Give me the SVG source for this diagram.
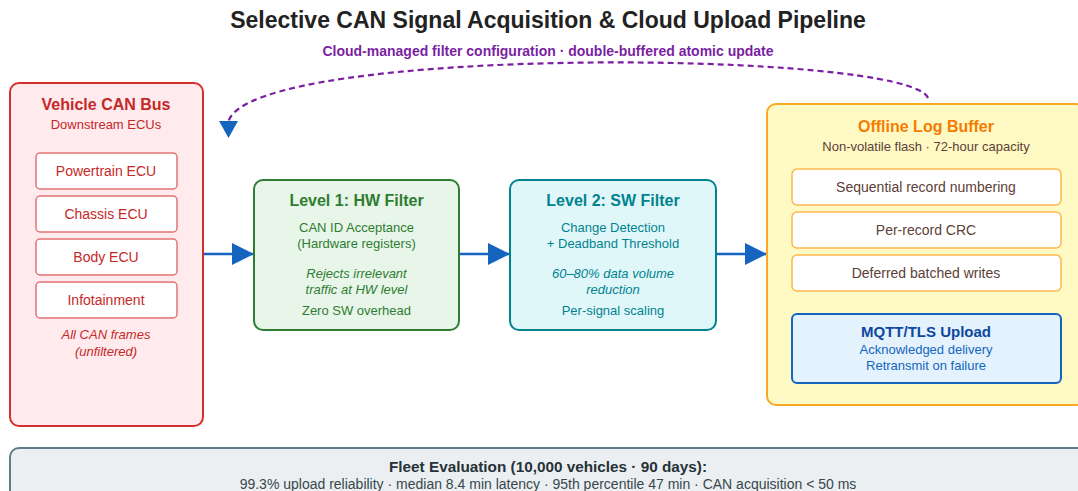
<svg xmlns="http://www.w3.org/2000/svg" width="1078" height="491" viewBox="0 0 1078 491">
<defs>
<marker id="blueHead" markerWidth="22" markerHeight="22" viewBox="0 0 22 22" refX="22" refY="11" orient="auto" markerUnits="userSpaceOnUse">
<path d="M0,0 L22,11 L0,22 Z" fill="#1565c0"/>
</marker>
<marker id="cfgHead" markerWidth="17" markerHeight="19" viewBox="0 0 17 19" refX="0" refY="9.5" orient="90" markerUnits="userSpaceOnUse">
<path d="M0,0 L17,9.5 L0,19 Z" fill="#1565c0"/>
</marker>
</defs>
<style>
text{font-family:"Liberation Sans",Arial,Helvetica,sans-serif;text-anchor:middle}
.title{font-size:23px;font-weight:bold;fill:#222}
.sub{font-size:14px;font-weight:bold;fill:#7b1fa2}
.h{font-size:16px;font-weight:bold}
.s{font-size:13px}
.i{font-size:13px;font-style:italic}
.item{font-size:14px}
.flow{stroke:#1565c0;stroke-width:2.5;fill:none}
.cfg{stroke:#7b1fa2;stroke-width:2.2;fill:none;stroke-dasharray:6 4}
.ecu{fill:#fff;stroke:#e57373;stroke-width:1.5}
.log{fill:#fff;stroke:#ffb74d;stroke-width:1.5}
</style>
<rect width="1078" height="491" fill="#fff"/>
<text class="title" x="548" y="28">Selective CAN Signal Acquisition &amp; Cloud Upload Pipeline</text>
<text class="sub" x="548" y="56">Cloud-managed filter configuration · double-buffered atomic update</text>

<g id="connectors">
<path class="cfg" d="M928,98 C910,50 255,44 228.5,121" marker-end="url(#cfgHead)"/>
<path class="flow" d="M203,254 L254,254" marker-end="url(#blueHead)"/>
<path class="flow" d="M459,254 L510,254" marker-end="url(#blueHead)"/>
<path class="flow" d="M716,254 L767,254" marker-end="url(#blueHead)"/>
</g>

<g id="vehicle-can-bus">
<rect x="10" y="83" width="193" height="343" rx="9" fill="#ffebee" stroke="#d32f2f" stroke-width="2"/>
<text class="h" x="106" y="110" fill="#c62828">Vehicle CAN Bus</text>
<text class="s" x="106" y="129" fill="#c62828">Downstream ECUs</text>
<g id="powertrain-ecu"><rect class="ecu" x="36" y="153" width="141" height="36" rx="4"/><text class="item" x="106" y="176" fill="#c62828">Powertrain ECU</text></g>
<g id="chassis-ecu"><rect class="ecu" x="36" y="196" width="141" height="36" rx="4"/><text class="item" x="106" y="219" fill="#c62828">Chassis ECU</text></g>
<g id="body-ecu"><rect class="ecu" x="36" y="239" width="141" height="36" rx="4"/><text class="item" x="106" y="262" fill="#c62828">Body ECU</text></g>
<g id="infotainment"><rect class="ecu" x="36" y="282" width="141" height="36" rx="4"/><text class="item" x="106" y="305" fill="#c62828">Infotainment</text></g>
<text class="i" x="106" y="339" fill="#c62828">All CAN frames</text>
<text class="i" x="106" y="356" fill="#c62828">(unfiltered)</text>
</g>

<g id="level1-hw-filter">
<rect x="254" y="180" width="205" height="150" rx="9" fill="#e8f5e9" stroke="#2e7d32" stroke-width="2"/>
<text class="h" x="356.5" y="206" fill="#2e7d32">Level 1: HW Filter</text>
<text class="s" x="356.5" y="232" fill="#2e7d32">CAN ID Acceptance</text>
<text class="s" x="356.5" y="248" fill="#2e7d32">(Hardware registers)</text>
<text class="i" x="356.5" y="278" fill="#2e7d32">Rejects irrelevant</text>
<text class="i" x="356.5" y="294" fill="#2e7d32">traffic at HW level</text>
<text class="s" x="356.5" y="315" fill="#2e7d32">Zero SW overhead</text>
</g>

<g id="level2-sw-filter">
<rect x="510" y="180" width="206" height="150" rx="9" fill="#e0f7fa" stroke="#00838f" stroke-width="2"/>
<text class="h" x="613" y="206" fill="#00838f">Level 2: SW Filter</text>
<text class="s" x="613" y="232" fill="#00838f">Change Detection</text>
<text class="s" x="613" y="248" fill="#00838f">+ Deadband Threshold</text>
<text class="i" x="613" y="278" fill="#00838f">60–80% data volume</text>
<text class="i" x="613" y="294" fill="#00838f">reduction</text>
<text class="s" x="613" y="315" fill="#00838f">Per-signal scaling</text>
</g>

<g id="offline-log-buffer">
<rect x="767" y="104" width="318" height="301" rx="9" fill="#fff9c4" stroke="#f9a825" stroke-width="2"/>
<text class="h" x="926" y="132" fill="#f57c00">Offline Log Buffer</text>
<text class="s" x="926" y="151" fill="#5d4037">Non-volatile flash · 72-hour capacity</text>
<g id="sequential-numbering"><rect class="log" x="792" y="169" width="269" height="36" rx="5"/><text class="item" x="926" y="192" fill="#5d4037">Sequential record numbering</text></g>
<g id="per-record-crc"><rect class="log" x="792" y="212" width="269" height="36" rx="5"/><text class="item" x="926" y="235" fill="#5d4037">Per-record CRC</text></g>
<g id="deferred-writes"><rect class="log" x="792" y="255" width="269" height="36" rx="5"/><text class="item" x="926" y="278" fill="#5d4037">Deferred batched writes</text></g>
<g id="mqtt-upload">
<rect x="792" y="314" width="269" height="69" rx="5" fill="#e3f2fd" stroke="#1565c0" stroke-width="2"/>
<text x="926" y="337" font-size="15" font-weight="bold" fill="#0d47a1">MQTT/TLS Upload</text>
<text class="s" x="926" y="354" fill="#1565c0">Acknowledged delivery</text>
<text class="s" x="926" y="370" fill="#1565c0">Retransmit on failure</text>
</g>
</g>

<g id="fleet-evaluation">
<rect x="10" y="448" width="1100" height="70" rx="9" fill="#eceff1" stroke="#607d8b" stroke-width="2"/>
<text x="548" y="472" font-size="15.3" font-weight="bold" fill="#263238">Fleet Evaluation (10,000 vehicles · 90 days):</text>
<text x="548" y="489" font-size="14" fill="#37474f">99.3% upload reliability · median 8.4 min latency · 95th percentile 47 min · CAN acquisition &lt; 50 ms</text>
</g>
</svg>
